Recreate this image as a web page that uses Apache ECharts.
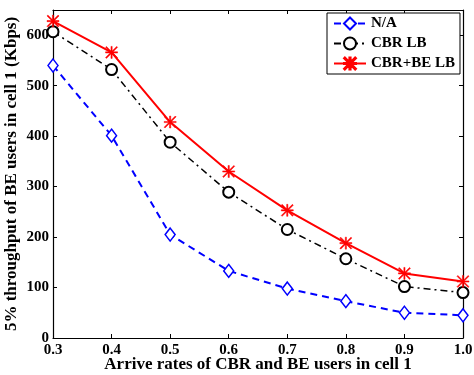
<!DOCTYPE html>
<html>
<head>
<meta charset="utf-8">
<script src="https://cdn.jsdelivr.net/npm/echarts@6/dist/echarts.min.js"></script>
<style>
  html, body { margin: 0; padding: 0; background: #fff; }
  #chart { width: 474px; height: 375px; }
</style>
</head>
<body>
<div id="chart"></div>
<script>
// arrive rates (x axis)
const rates = ['0.3', '0.4', '0.5', '0.6', '0.7', '0.8', '0.9', '1.0'];
// 5% throughput (Kbps)
const naData = [540, 401, 205, 133, 98, 73, 50, 45];
const cbrData = [607, 532, 388, 289, 215, 157, 102, 90];
const cbrBeData = [628, 566, 428, 330, 253, 188, 128, 112];

const font = 'Liberation Serif';
// asterisk marker like matlab's '*'
const asterisk = 'path://M9,0L11,0L11,20L9,20Z M0,9L20,9L20,11L0,11Z M0,1.4L1.4,0L20,18.6L18.6,20Z M18.6,0L20,1.4L1.4,20L0,18.6Z';

const chart = echarts.init(document.getElementById('chart'));

const tickStyle = { show: true, inside: true, length: 4, lineStyle: { color: '#000' } };
const lineStyle = { show: true, onZero: false, lineStyle: { color: '#000', width: 1.2 } };

const option = {
    backgroundColor: '#fff',
    animation: false,
    grid: { left: 53, right: 11, top: 10, bottom: 37, containLabel: false, outerBoundsMode: 'none' },
    legend: {
        orient: 'vertical',
        left: 327,
        top: 13,
        padding: [3, 5, 3, 6],
        itemGap: 5,
        itemWidth: 32,
        itemHeight: 15,
        borderColor: '#000',
        borderWidth: 1,
        backgroundColor: '#fff',
        textStyle: { fontFamily: font, fontWeight: 'bold', fontSize: 15, color: '#000' },
        data: ['N/A', 'CBR LB', 'CBR+BE LB']
    },
    xAxis: [
        {
            type: 'category',
            data: rates,
            boundaryGap: false,
            position: 'bottom',
            name: 'Arrive rates of CBR and BE users in cell 1',
            nameLocation: 'middle',
            nameGap: 18,
            nameMoveOverlap: false,
            nameTextStyle: { fontFamily: font, fontWeight: 'bold', fontSize: 17, color: '#000' },
            axisLine: lineStyle,
            axisTick: tickStyle,
            axisLabel: { fontFamily: font, fontWeight: 'bold', fontSize: 15, color: '#000', margin: 5 },
            splitLine: { show: false }
        },
        {
            type: 'category',
            data: rates,
            boundaryGap: false,
            position: 'top',
            axisLine: lineStyle,
            axisTick: tickStyle,
            axisLabel: { show: false },
            splitLine: { show: false }
        }
    ],
    yAxis: [
        {
            type: 'value',
            min: 0,
            max: 650,
            interval: 100,
            position: 'left',
            name: '5% throughput of BE users in cell 1 (Kbps)',
            nameLocation: 'middle',
            nameGap: 33,
            nameMoveOverlap: false,
            nameTextStyle: { fontFamily: font, fontWeight: 'bold', fontSize: 17, color: '#000' },
            axisLine: lineStyle,
            axisTick: tickStyle,
            axisLabel: { fontFamily: font, fontWeight: 'bold', fontSize: 15, color: '#000', margin: 4, showMaxLabel: false },
            splitLine: { show: false }
        },
        {
            type: 'value',
            min: 0,
            max: 650,
            interval: 100,
            position: 'right',
            axisLine: lineStyle,
            axisTick: tickStyle,
            axisLabel: { show: false },
            splitLine: { show: false }
        }
    ],
    series: [
        {
            name: 'N/A',
            type: 'line',
            data: naData,
            symbol: 'diamond',
            symbolSize: [10, 13],
            itemStyle: { color: '#fff', borderColor: '#0000ff', borderWidth: 1.5 },
            lineStyle: { color: '#0000ff', width: 2, type: [7, 5] },
            z: 3
        },
        {
            name: 'CBR LB',
            type: 'line',
            data: cbrData,
            symbol: 'emptyCircle',
            symbolSize: 11,
            itemStyle: { color: '#000', borderColor: '#000', borderWidth: 1.5 },
            lineStyle: { color: '#000', width: 1.5, type: [7, 4, 2, 4] },
            z: 4
        },
        {
            name: 'CBR+BE LB',
            type: 'line',
            data: cbrBeData,
            symbol: asterisk,
            symbolSize: 12,
            itemStyle: { color: '#ff0000', borderColor: '#ff0000', borderWidth: 0.5 },
            lineStyle: { color: '#ff0000', width: 2 },
            z: 5
        }
    ]
};

chart.setOption(option);
</script>
</body>
</html>
